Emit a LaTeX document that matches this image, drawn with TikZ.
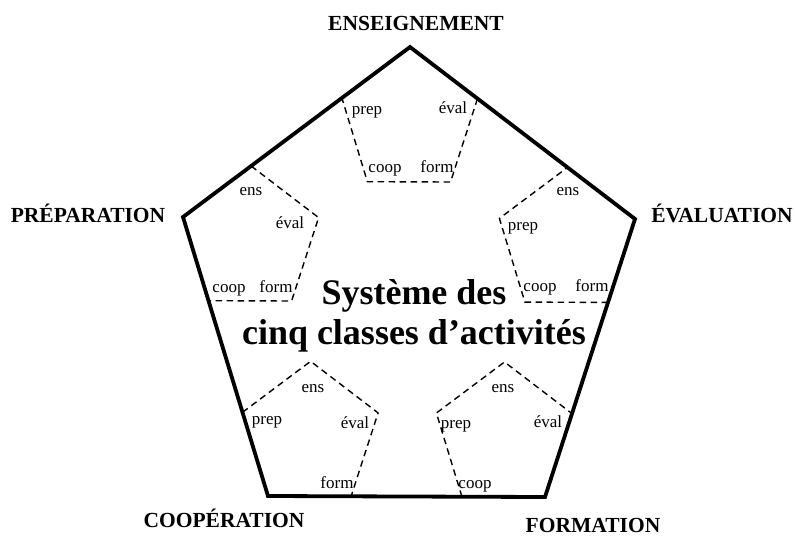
\documentclass[tikz,border=0pt]{standalone}
\usepackage{fontspec}
\setmainfont{Liberation Serif}
\usetikzlibrary{calc}
\tikzstyle{sommet} = [font=\fontsize{21.5}{25}\selectfont\bfseries, anchor=base, inner sep=0pt]
\tikzstyle{petit} = [font=\fontsize{17}{20}\selectfont, anchor=base, inner sep=0pt]
\tikzstyle{bord} = [line width=3.8pt]
\tikzstyle{pointille} = [line width=1.4pt, dash pattern=on 6.5pt off 4.5pt]

\begin{document}
\begin{tikzpicture}[x=1pt, y=-1pt]
                    \useasboundingbox (0,0) rectangle (795,536);
                    \coordinate (E) at (410,47);
                    \coordinate (V) at (635,219);
                    \coordinate (F) at (545,497);
                    \coordinate (C) at (268,496);
                    \coordinate (P) at (183,217);

                    \draw [bord] (E) -- (V) -- (F) -- (C) -- (P) -- cycle;

                    \node (ens) [sommet] at (416,30) {ENSEIGNEMENT};
                    \node (eval) [sommet] at (722,222) {ÉVALUATION};
                    \node (form) [sommet] at (593,532) {FORMATION};
                    \node (coop) [sommet] at (224,527) {COOPÉRATION};
                    \node (prep) [sommet] at (88,222) {PRÉPARATION};

                    \node (titre) [font=\fontsize{36}{40}\selectfont\bfseries, align=center] at (414,316) {Système des\\cinq classes d’activités};

                    % petits pentagones
                    \draw [pointille] ($(E)!0.3!(V)$) -- ($(E)!0.3!(F)$) -- ($(E)!0.3!(C)$) -- ($(E)!0.3!(P)$);
                    \draw [pointille] ($(V)!0.3!(F)$) -- ($(V)!0.3!(C)$) -- ($(V)!0.3!(P)$) -- ($(V)!0.3!(E)$);
                    \draw [pointille] ($(F)!0.3!(C)$) -- ($(F)!0.3!(P)$) -- ($(F)!0.3!(E)$) -- ($(F)!0.3!(V)$);
                    \draw [pointille] ($(C)!0.3!(P)$) -- ($(C)!0.3!(E)$) -- ($(C)!0.3!(V)$) -- ($(C)!0.3!(F)$);
                    \draw [pointille] ($(P)!0.3!(E)$) -- ($(P)!0.3!(V)$) -- ($(P)!0.3!(F)$) -- ($(P)!0.3!(C)$);

                    \node (ens-prep) [petit] at (367,114) {prep};
                    \node (ens-eval) [petit] at (453,113) {éval};
                    \node (ens-coop) [petit] at (385,172) {coop};
                    \node (ens-form) [petit] at (437,172) {form};

                    \node (prep-ens) [petit] at (251,195) {ens};
                    \node (prep-eval) [petit] at (290,228) {éval};
                    \node (prep-coop) [petit] at (229,292) {coop};
                    \node (prep-form) [petit] at (276,292) {form};

                    \node (eval-ens) [petit] at (568,195) {ens};
                    \node (eval-prep) [petit] at (523,230) {prep};
                    \node (eval-coop) [petit] at (540,291) {coop};
                    \node (eval-form) [petit] at (592,291) {form};

                    \node (coop-ens) [petit] at (313,392) {ens};
                    \node (coop-prep) [petit] at (267,424) {prep};
                    \node (coop-eval) [petit] at (355,428) {éval};
                    \node (coop-form) [petit] at (337,488) {form};

                    \node (form-ens) [petit] at (503,392) {ens};
                    \node (form-prep) [petit] at (456,428) {prep};
                    \node (form-eval) [petit] at (548,427) {éval};
                    \node (form-coop) [petit] at (475,488) {coop};
                \end{tikzpicture}
\end{document}
